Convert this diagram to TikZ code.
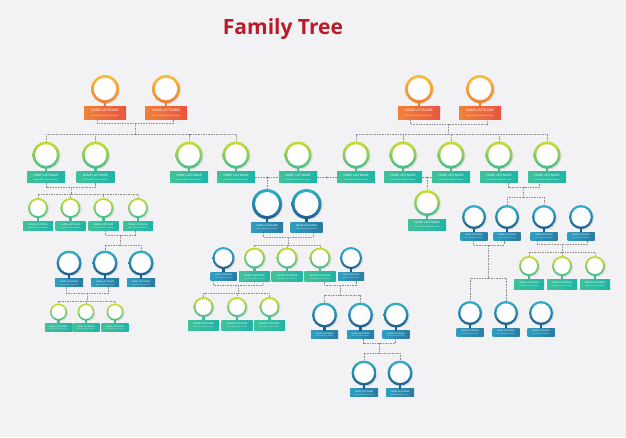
\documentclass[tikz,border=0pt]{standalone}
\usepackage{fontspec}
\setmainfont{Open Sans}
\usetikzlibrary{positioning, shadows}

\definecolor{bgc}{HTML}{F2F2F4}
\definecolor{titlered}{HTML}{BA1B2B}
\definecolor{linkc}{HTML}{8E8E8E}
\definecolor{ringOt}{HTML}{F7BF3B}
\definecolor{ringOb}{HTML}{EF7F30}
\definecolor{boxOl}{HTML}{F0813A}
\definecolor{boxOr}{HTML}{E8553F}
\definecolor{ringGt}{HTML}{C9DC2C}
\definecolor{ringGb}{HTML}{45BD93}
\definecolor{boxGl}{HTML}{3EC399}
\definecolor{boxGr}{HTML}{20B3A6}
\definecolor{ringBt}{HTML}{31B0C9}
\definecolor{ringBb}{HTML}{1E5E8F}
\definecolor{boxBl}{HTML}{2E9EC0}
\definecolor{boxBr}{HTML}{2A7BA2}

% one person: circle (#1) and its box (#1b)
% #1 name, #2 kind (o/g/b), #3 x, #4 y, #5 radius, #6 box width, #7 box height
\newcommand\person[7]{%
  \pgfmathsetmacro\fsa{0.08*#6}%
  \pgfmathsetmacro\fsl{0.1*#6}%
  \pgfmathsetmacro\fsb{0.048*#6}%
  \node[ring#2, minimum size=2*#5] (#1) at (#3,#4) {};
  \node[circle, fill=white, inner sep=0pt, minimum size=1.6*#5] at (#1) {};
  \node[box#2, minimum width=#6, minimum height=#7, below=3pt of #1,
        font=\fontsize{\fsa pt}{\fsl pt}\selectfont] (#1b)
    {NAME LASTNAME\\ \fontsize{\fsb pt}{\fsb pt}\selectfont (Date of Birth-Date of Death)};
  \fill[stem#2] ([xshift=-1.3pt,yshift=1pt]#1.south) rectangle ([xshift=1.3pt]#1b.north);
}

\begin{document}
\begin{tikzpicture}[x=1pt, y=-1pt,
    ringbase/.style={circle, inner sep=0pt,
      drop shadow={opacity=.16, shadow xshift=1.2pt, shadow yshift=-1pt}},
    ringo/.style={ringbase, top color=ringOt, bottom color=ringOb},
    ringg/.style={ringbase, top color=ringGt, bottom color=ringGb},
    ringb/.style={ringbase, top color=ringBt, bottom color=ringBb},
    stemo/.style={fill=ringOb}, stemg/.style={fill=ringGb}, stemb/.style={fill=ringBb},
    boxbase/.style={rectangle, inner sep=0pt, text=white, align=center},
    boxo/.style={boxbase, left color=boxOl, right color=boxOr},
    boxg/.style={boxbase, left color=boxGl, right color=boxGr},
    boxb/.style={boxbase, left color=boxBl, right color=boxBr},
    link/.style={draw=linkc, line width=0.5pt, dash pattern=on 1.6pt off 1pt},
    knot/.style={fill=linkc!70!ringGb}]
  \fill[bgc] (0,0) rectangle (626,437);
  \useasboundingbox (0,0) rectangle (626,437);

  \node[font=\fontsize{21}{25}\selectfont\bfseries, text=titlered] (title) at (283,29) {Family Tree};

  % grandparents
  \person{o1}{o}{105}{89}{14}{42}{13}
  \person{o2}{o}{166}{89}{14}{42}{13}
  \person{o3}{o}{419}{89}{14}{42}{13}
  \person{o4}{o}{480}{89}{14}{42}{13}
  % second row
  \person{g1}{g}{46}{155}{13.5}{38}{11}
  \person{g2}{g}{95.5}{155}{13.5}{38}{11}
  \person{g3}{g}{189}{155}{13.5}{38}{11}
  \person{g4}{g}{236}{155}{13.5}{38}{11}
  \person{g5}{g}{298}{155}{13.5}{38}{11}
  \person{g6}{g}{356}{155}{13.5}{38}{11}
  \person{g7}{g}{403}{155}{13.5}{38}{11}
  \person{g8}{g}{451}{155}{13.5}{38}{11}
  \person{g9}{g}{499}{155}{13.5}{38}{11}
  \person{g10}{g}{547}{155}{13.5}{38}{11}
  \person{g11}{g}{427}{203}{13}{38}{11}
  % left branch
  \person{g12}{g}{38}{208}{10}{30}{9}
  \person{g13}{g}{70.5}{208}{10}{30}{9}
  \person{g14}{g}{103.5}{208}{10}{30}{9}
  \person{g15}{g}{138}{208}{10}{30}{9}
  \person{b1}{b}{69}{263}{12.5}{28}{8}
  \person{b2}{b}{105}{263}{12.5}{28}{8}
  \person{b3}{b}{141}{263}{12.5}{28}{8}
  \person{g16}{g}{58.5}{312}{8.5}{27}{8}
  \person{g17}{g}{86}{312}{8.5}{27}{8}
  \person{g18}{g}{115}{312}{8.5}{27}{8}
  % centre branch
  \person{b4}{b}{267}{204}{15}{32}{10}
  \person{b5}{b}{306.5}{204}{15}{32}{10}
  \person{b6}{b}{223.5}{258}{11}{26}{8}
  \person{g19}{g}{254.5}{258}{10.5}{31}{10}
  \person{g20}{g}{287}{258}{10.5}{31}{10}
  \person{g21}{g}{320}{258}{10.5}{31}{10}
  \person{b7}{b}{351}{258}{11}{26}{8}
  \person{g22}{g}{203.5}{307}{10}{31}{10}
  \person{g23}{g}{237}{307}{10}{31}{10}
  \person{g24}{g}{269.5}{307}{10}{31}{10}
  \person{b8}{b}{324.5}{315}{12.5}{27}{8}
  \person{b9}{b}{360.5}{315}{12.5}{27}{8}
  \person{b10}{b}{396}{315}{12.5}{27}{8}
  \person{b11}{b}{364}{373}{12.5}{28}{8}
  \person{b12}{b}{400}{373}{12.5}{28}{8}
  % right branch
  \person{b13}{b}{474}{217}{12}{27}{8}
  \person{b14}{b}{507}{217}{12}{27}{8}
  \person{b15}{b}{544}{217}{12}{27}{8}
  \person{b16}{b}{581}{217}{12}{27}{8}
  \person{g25}{g}{529}{266}{10}{30}{10}
  \person{g26}{g}{562}{266}{10}{30}{10}
  \person{g27}{g}{595}{266}{10}{30}{10}
  \person{b17}{b}{470}{313}{12}{27}{8}
  \person{b18}{b}{506}{313}{12}{27}{8}
  \person{b19}{b}{541}{313}{12}{27}{8}

  % families
  \coordinate (j1) at (135.5,123);
  \draw[link] ([xshift=-8pt]o1b.south) |- (j1) -| ([xshift=7pt]o2b.south);
  \draw[link] (j1) -- ++(0,11) coordinate (k1);
  \foreach \c in {g1,g2,g3,g4} \draw[link] (k1) -| (\c.north);

  \coordinate (j2) at (448.5,124);
  \draw[link] ([xshift=-9pt]o3b.south) |- (j2) -| ([xshift=7pt]o4b.south);
  \draw[link] (j2) -- ++(0,10) coordinate (k2);
  \foreach \c in {g6,g7,g8,g9,g10} \draw[link] (k2) -| (\c.north);

  \coordinate (j3) at (71,187);
  \draw[link] (g1b.south) |- (j3) -| (g2b.south);
  \draw[link] (j3) -- ++(0,7) coordinate (k3);
  \foreach \c in {g12,g13,g14,g15} \draw[link] (k3) -| (\c.north);

  \coordinate (j4) at (120,235);
  \draw[link] ([xshift=1.5pt]g14b.south) |- (j4) -| ([xshift=-3pt]g15b.south);
  \draw[link] (j4) -- ++(0,10) coordinate (k4);
  \foreach \c in {b2,b3} \draw[link] (k4) -| (\c.north);

  \coordinate (j5) at (87,293);
  \draw[link] ([xshift=-3pt]b1b.south) |- (j5) -| ([xshift=3pt]b2b.south);
  \draw[link] (j5) -- ++(0,8) coordinate (k5);
  \foreach \c in {g16,g17,g18} \draw[link] (k5) -| (\c.north);

  \draw[link] (g4b.east) -- (g5b.west);
  \coordinate (m1) at (b4.north |- g4b.east);
  \draw[link] (m1) -- (b4.north);
  \fill[knot] (m1) circle (1.1pt);
  \draw[link] (g5b.east) -- coordinate[midway] (m2) (g6b.west);
  \fill[knot] (m2) circle (1.1pt);
  \draw[link] (g7b.east) -- (g8b.west);
  \coordinate (m3) at (g11.north |- g7b.east);
  \draw[link] (m3) -- (g11.north);
  \fill[knot] (m3) circle (1.1pt);

  \coordinate (j8) at (288,237);
  \draw[link] ([xshift=-4pt]b4b.south) |- (j8) -| ([xshift=6.5pt]b5b.south);
  \draw[link] (j8) -- ++(0,8) coordinate (k8);
  \foreach \c in {g19,g20,g21} \draw[link] (k8) -| (\c.north);

  \coordinate (j9) at (238,285);
  \draw[link] ([xshift=-10pt]b6b.south) |- (j9) -| ([xshift=8.5pt]g19b.south);
  \draw[link] (j9) -- ++(0,8) coordinate (k9);
  \foreach \c in {g22,g23,g24} \draw[link] (k9) -| (\c.north);

  \coordinate (j10) at (340,285);
  \draw[link] ([xshift=4pt]g21b.south) |- (j10) -| ([xshift=5pt]b7b.south);
  \draw[link] (j10) -- ++(0,10) coordinate (k10);
  \foreach \c in {b8,b9} \draw[link] (k10) -| (\c.north);

  \coordinate (j11) at (379,343);
  \draw[link] ([xshift=2.5pt]b9b.south) |- (j11) -| ([xshift=-1pt]b10b.south);
  \draw[link] (j11) -- ++(0,10) coordinate (k11);
  \foreach \c in {b11,b12} \draw[link] (k11) -| (\c.north);

  \coordinate (j12) at (523.5,187);
  \draw[link] ([xshift=9pt]g9b.south) |- (j12) -| ([xshift=-8pt]g10b.south);
  \draw[link] (j12) -- ++(0,10) coordinate (k12);
  \foreach \c in {b14,b15} \draw[link] (k12) -| (\c.north);

  \coordinate (j13) at (488.5,245);
  \draw[link] ([xshift=-1pt]b13b.south) |- (j13) -| ([xshift=-3pt]b14b.south);
  \draw[link] (j13) -- ++(0,33) coordinate (k13);
  \foreach \c in {b17,b18} \draw[link] (k13) -| (\c.north);

  \coordinate (j14) at (562,244);
  \draw[link] ([xshift=-7pt]b15b.south) |- (j14) -| ([xshift=6pt]b16b.south);
  \draw[link] (j14) -- ++(0,8) coordinate (k14);
  \foreach \c in {g25,g26,g27} \draw[link] (k14) -| (\c.north);
\end{tikzpicture}
\end{document}
